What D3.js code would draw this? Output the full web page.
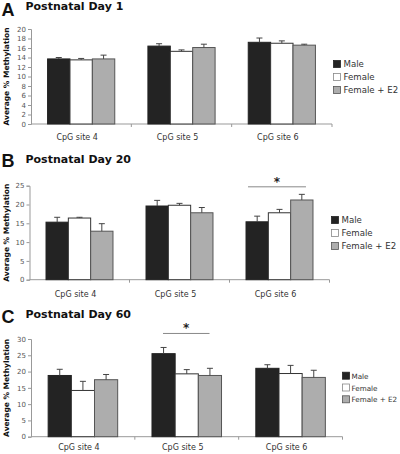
<!DOCTYPE html>
<html><head><meta charset="utf-8">
<script src="https://cdn.jsdelivr.net/npm/d3@7"></script>
<style>
body{margin:0;background:#fff;}
svg{display:block;}
</style></head>
<body>
<svg id="chart" width="400" height="454"></svg>
<script>
const sites = ["CpG site 4", "CpG site 5", "CpG site 6"];
const groups = ["Male", "Female", "Female + E2"];
const panelLetters = ["A", "B", "C"];
const panelTitles = ["Postnatal Day 1", "Postnatal Day 20", "Postnatal Day 60"];
const yMax = [20, 25, 30];
const yStep = [2, 5, 5];
// means per site: [Male, Female, Female + E2]
const day1Means = [[13.7, 13.5, 13.7], [16.4, 15.3, 16.1], [17.2, 17.0, 16.6]];
const day1Errs  = [[0.3, 0.3, 0.8], [0.5, 0.3, 0.7], [0.9, 0.5, 0.2]];
const day20Means = [[15.3, 16.4, 12.9], [19.6, 19.8, 17.8], [15.4, 17.8, 21.2]];
const day20Errs  = [[1.3, 0.2, 2.0], [1.5, 0.5, 1.4], [1.5, 0.9, 1.5]];
const day60Means = [[18.8, 14.2, 17.5], [25.5, 19.3, 18.8], [21.0, 19.4, 18.2]];
const day60Errs  = [[1.9, 2.8, 1.6], [1.9, 1.3, 2.2], [1.1, 2.5, 2.2]];
// significance: [site, y value]
const sigMarks = [null, ["CpG site 6", 24.7], ["CpG site 5", 31.7]];

const colors = {"Male": "#232323", "Female": "#ffffff", "Female + E2": "#adadad"};
const strokes = {"Male": "#222", "Female": "#333", "Female + E2": "#555"};

const means = [day1Means, day20Means, day60Means];
const errs = [day1Errs, day20Errs, day60Errs];

// layout per panel
const layout = [
  {x0: 31, x1: 332, yTop: 29, yBot: 124, labY: 140, legX: 333, legY: 64, legDy: 13, legFont: 8.6, legTx: 10.5, titleY: 10, letterY: 16, sigX: [1, -8]},
  {x0: 29.5, x1: 329.5, yTop: 185.7, yBot: 279.7, labY: 297, legX: 331, legY: 220, legDy: 13, legFont: 8.6, legTx: 10.5, titleY: 163, letterY: 167, sigX: [2, -7]},
  {x0: 31, x1: 342.5, yTop: 339, yBot: 436.7, labY: 450, legX: 342, legY: 375.7, legDy: 11.8, legFont: 7.2, legTx: 9.5, titleY: 318, letterY: 323, sigX: [11, -12]}
];

const svg = d3.select("#chart");

layout.forEach((L, p) => {
  const g = svg.append("g");
  const x = d3.scaleBand().domain(sites).range([L.x0, L.x1]).paddingInner(0).paddingOuter(0);
  const xg = d3.scaleBand().domain(groups).range([0, x.bandwidth()]).paddingInner(0).paddingOuter(0.74);
  const y = d3.scaleLinear().domain([0, yMax[p]]).range([L.yBot, L.yTop]);

  // panel letter & title
  g.append("text").attr("x", 1.5).attr("y", L.letterY)
    .attr("font-family", "Liberation Sans, Arial, sans-serif").attr("font-weight", "bold")
    .attr("font-size", 18).attr("fill", "#111").text(panelLetters[p]);
  g.append("text").attr("x", 25.5).attr("y", L.titleY)
    .attr("font-family", "DejaVu Sans, sans-serif").attr("font-weight", "bold")
    .attr("font-size", 11).attr("fill", "#111").text(panelTitles[p]);

  // y axis
  const ya = d3.axisLeft(y).tickValues(d3.range(0, yMax[p] + 0.001, yStep[p])).tickSize(3).tickPadding(2);
  const yAx = g.append("g").attr("transform", `translate(${L.x0},0)`).call(ya);
  yAx.select(".domain").attr("stroke", "#999");
  yAx.selectAll(".tick line").attr("stroke", "#999");
  yAx.selectAll(".tick text").attr("font-family", "DejaVu Sans, sans-serif").attr("font-size", 7).attr("fill", "#555");

  // y label
  g.append("text")
    .attr("transform", `translate(8.5,${(L.yTop + L.yBot) / 2}) rotate(-90)`)
    .attr("text-anchor", "middle")
    .attr("font-family", "DejaVu Sans, sans-serif").attr("font-weight", "bold")
    .attr("font-size", 7.5).attr("fill", "#111").text("Average % Methylation");

  // x axis
  g.append("line").attr("x1", L.x0).attr("x2", L.x1).attr("y1", L.yBot).attr("y2", L.yBot).attr("stroke", "#999");
  const bounds = sites.map(s => x(s)).concat([L.x1]);
  g.selectAll(".xt").data(bounds.slice(1)).enter().append("line")
    .attr("x1", d => d).attr("x2", d => d).attr("y1", L.yBot).attr("y2", L.yBot + 3).attr("stroke", "#999");
  g.selectAll(".xl").data(sites).enter().append("text")
    .attr("x", d => x(d) + x.bandwidth() / 2 - 4).attr("y", L.labY)
    .attr("text-anchor", "middle").attr("font-family", "DejaVu Sans, sans-serif")
    .attr("font-size", 8).attr("fill", "#333").text(d => d);

  // bars
  const rows = [];
  sites.forEach((s, i) => groups.forEach((gr, j) => rows.push({site: s, group: gr, v: means[p][i][j], e: errs[p][i][j]})));
  const bx = d => x(d.site) + xg(d.group);
  g.selectAll(".bar").data(rows).enter().append("rect")
    .attr("x", bx).attr("y", d => y(d.v)).attr("width", xg.bandwidth())
    .attr("height", d => y(0) - y(d.v))
    .attr("fill", d => colors[d.group]).attr("stroke", d => strokes[d.group]).attr("stroke-width", 1);
  const eb = g.selectAll(".err").data(rows).enter().append("g").attr("stroke", "#444").attr("stroke-width", 1);
  eb.append("line").attr("x1", d => bx(d) + xg.bandwidth() / 2).attr("x2", d => bx(d) + xg.bandwidth() / 2)
    .attr("y1", d => y(d.v)).attr("y2", d => y(d.v + d.e));
  eb.append("line").attr("x1", d => bx(d) + xg.bandwidth() / 2 - 3).attr("x2", d => bx(d) + xg.bandwidth() / 2 + 3)
    .attr("y1", d => y(d.v + d.e)).attr("y2", d => y(d.v + d.e));

  // significance
  const sg = sigMarks[p];
  if (sg) {
    const sx0 = x(sg[0]) + xg(groups[0]) + L.sigX[0];
    const sx1 = x(sg[0]) + xg(groups[2]) + xg.bandwidth() + L.sigX[1];
    g.append("line").attr("x1", sx0).attr("x2", sx1).attr("y1", y(sg[1])).attr("y2", y(sg[1]))
      .attr("stroke", "#888").attr("stroke-width", 1);
    g.append("text").attr("x", (sx0 + sx1) / 2).attr("y", y(sg[1]) - 1)
      .attr("text-anchor", "middle").attr("font-family", "DejaVu Sans, sans-serif")
      .attr("font-weight", "bold").attr("font-size", 12).attr("fill", "#222").text("*");
  }

  // legend
  const lg = g.selectAll(".leg").data(groups).enter().append("g")
    .attr("transform", (d, i) => `translate(${L.legX},${L.legY + i * L.legDy})`);
  lg.append("rect").attr("x", 0.5).attr("y", -3.5).attr("width", 7).attr("height", 7)
    .attr("fill", d => colors[d]).attr("stroke", d => d === "Female" ? "#888" : strokes[d]).attr("stroke-width", 0.8);
  lg.append("text").attr("x", L.legTx).attr("y", 3).attr("font-family", "DejaVu Sans, sans-serif")
    .attr("font-size", L.legFont).attr("fill", "#333").text(d => d);
});
</script>
</body></html>
